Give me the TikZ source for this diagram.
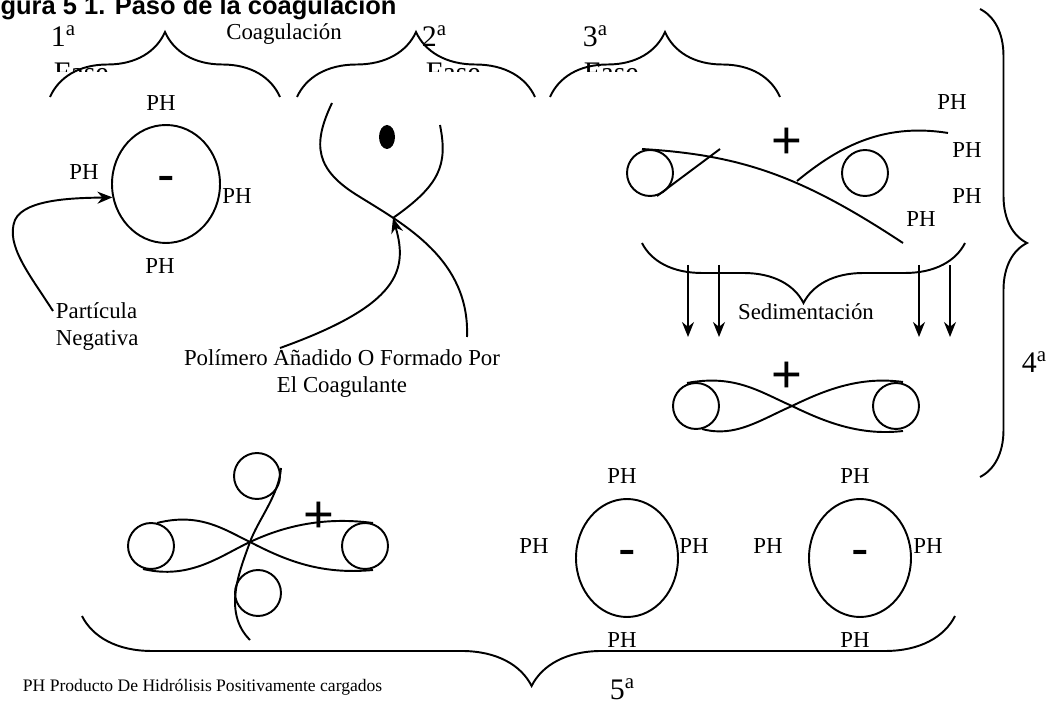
\documentclass[tikz,border=0pt]{standalone}
\usepackage{fontspec}
\setmainfont{Liberation Serif}
\setsansfont{Liberation Sans}
\usetikzlibrary{arrows.meta,shapes.geometric,decorations.pathreplacing}

\tikzset{
  lbl/.style={font=\fontsize{13}{15}\selectfont, inner sep=0pt},
  note/.style={font=\fontsize{10}{12}\selectfont, inner sep=0pt},
  phase/.style={font=\fontsize{17}{20}\selectfont, inner sep=0pt},
  title/.style={font=\sffamily\bfseries\fontsize{14.5}{17}\selectfont, inner sep=0pt},
  sign/.style={font=\sffamily\fontsize{30}{30}\selectfont, inner sep=0pt},
  particle/.style={ellipse, draw, inner sep=0pt, minimum height=2.36cm},
  blob/.style={circle, draw, minimum size=0.92cm, inner sep=0pt},
  curly/.style={decorate, decoration={brace, amplitude=#1}},
  tip/.style={-{Stealth[length=3mm, width=2.4mm]}},
}

\begin{document}
\begin{tikzpicture}[x=0.02cm, y=-0.02cm, line width=1.1pt]
  \useasboundingbox (0,0) rectangle (1059,702);
  \clip (0,0) rectangle (1059,702);
  % Title, cut by the top edge
  \node[title, anchor=base west] (title) at (-23,15) {Figura 5 1. Paso de la coagulación};

  % Phase braces
  \draw[curly=1.3cm] (50,97) -- (280,97);
  \draw[curly=1.3cm] (297,97) -- (535,97);
  \draw[curly=1.3cm] (550,97) -- (780,97);
  \draw[curly=0.94cm] (980,9) -- (980,477);
  \draw[curly=1.4cm, decoration={aspect=0.485}] (955,616) -- (82,616);
  \node[lbl, anchor=base] (coag) at (284,40) {Coagulación};
  \node[phase, anchor=base west] (f1) at (50,47) {1\textsuperscript{a}};
  \node[phase, anchor=base west] (f2) at (421,47) {2\textsuperscript{a}};
  \node[phase, anchor=base west] (f3) at (582,47) {3\textsuperscript{a}};
  \node[phase, anchor=base west] (f4) at (1021,373) {4\textsuperscript{a}};
  \node[phase, anchor=base west] (f5) at (609,700) {5\textsuperscript{a}};
  % Hidden lower half of the "Fase" words
  \begin{scope}
    \clip (40,55) rectangle (700,72);
    \node[phase, anchor=base west] (fase1) at (53,83) {Fase};
    \node[phase, anchor=base west] (fase2) at (425,83) {Fase};
    \node[phase, anchor=base west] (fase3) at (583,83) {Fase};
  \end{scope}

  % 1st phase: negative particle
  \node[particle, sign, minimum width=2.16cm] (p1) at (166,184) {-};
  \node[lbl] (p1t) at (161,103) {PH};
  \node[lbl] (p1l) at (84,172) {PH};
  \node[lbl] (p1r) at (237,196) {PH};
  \node[lbl] (p1b) at (160,266) {PH};
  \node[lbl, align=left, anchor=north west] (neg) at (55,302) {Partícula\\Negativa};
  \draw[tip] ([shift={(-2,9)}]neg.north west) .. controls (30,275) and (5,245) .. (15,220)
    .. controls (25,198) and (80,198) .. (p1.194);

  % 2nd phase: polymer
  \node[ellipse, fill, inner sep=0pt, minimum width=0.32cm, minimum height=0.48cm] (dot) at (387,137) {};
  \coordinate (knot) at (393,218);
  \draw (332,103) .. controls (312,145) and (315,170) .. (360,197)
    .. controls (405,225) and (470,260) .. (467,337);
  \draw (440,125) .. controls (448,165) and (440,185) .. (knot);
  \node[lbl, align=center, anchor=north] (pol) at (342,349) {Polímero Añadido O Formado Por\\El Coagulante};
  \draw[tip] ([shift={(-62,-1)}]pol.north) .. controls (400,305) and (408,270) .. (knot);

  % 3rd phase: bridging
  \node[blob] (c3a) at (650,173) {};
  \node[blob] (c3b) at (865,173) {};
  \coordinate (fork) at (797,181);
  \draw (642,149) .. controls (740,155) and (800,175) .. (903,243);
  \draw (657,196) -- (720,149);
  \draw (fork) .. controls (835,150) and (880,122) .. (948,133);
  \node[sign] (plus3) at (787,143) {+};
  \node[lbl] (ph3a) at (952,102) {PH};
  \node[lbl] (ph3b) at (967,150) {PH};
  \node[lbl] (ph3c) at (967,196) {PH};
  \node[lbl] (ph3d) at (921,219) {PH};

  % 4th phase: sedimentation
  \draw[curly=1.2cm] (965,243) -- (642,243);
  \node[lbl, anchor=base] (sed) at (806,320) {Sedimentación};
  \foreach \x [count=\i] in {688,719,919,950} {
    \coordinate (sedtop\i) at (\x,265);
    \coordinate (sedbot\i) at (\x,337);
    \draw[tip] (sedtop\i) -- (sedbot\i);
  }
  \node[blob] (c4a) at (696,406) {};
  \node[blob] (c4b) at (896,406) {};
  \draw (687,383) .. controls (735,374) and (760,392) .. (792,406)
    .. controls (825,422) and (860,436) .. (903,431);
  \draw (702,429) .. controls (735,438) and (760,420) .. (792,406)
    .. controls (825,390) and (860,376) .. (903,382);
  \node[sign] (plus4) at (787,377) {+};

  % 5th phase: floc
  \node[blob] (c5l) at (151,546) {};
  \node[blob] (c5r) at (365,546) {};
  \node[blob] (c5t) at (257,476) {};
  \node[blob] (c5b) at (258,593) {};
  \draw (157,523) .. controls (200,512) and (225,530) .. (250,542)
    .. controls (285,560) and (320,575) .. (373,570);
  \draw (143,569) .. controls (190,580) and (220,556) .. (250,542)
    .. controls (280,528) and (320,516) .. (373,523);
  \draw (281,468) .. controls (279,495) and (258,520) .. (250,542)
    .. controls (240,570) and (222,612) .. (250,640);
  \node[sign] (plus5) at (319,517) {+};

  % Restabilised particles
  \node[particle, sign, minimum width=2.04cm] (p2) at (627,558) {-};
  \node[lbl] (p2t) at (622,476) {PH};
  \node[lbl] (p2l) at (534,546) {PH};
  \node[lbl] (p2r) at (694,546) {PH};
  \node[lbl] (p2b) at (622,640) {PH};
  \node[particle, sign, minimum width=2.04cm] (p3) at (860,558) {-};
  \node[lbl] (p3t) at (855,476) {PH};
  \node[lbl] (p3l) at (768,546) {PH};
  \node[lbl] (p3r) at (928,546) {PH};
  \node[lbl] (p3b) at (855,640) {PH};

  \node[note, anchor=base west] (key) at (22,691) {PH Producto De Hidrólisis Positivamente cargados};
\end{tikzpicture}
\end{document}
